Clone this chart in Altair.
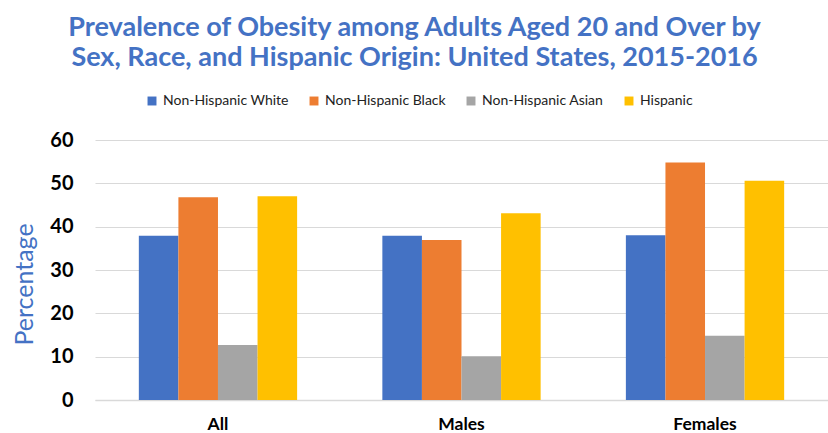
import altair as alt
import pandas as pd

groups = ["All", "Males", "Females"]
series = ["Non-Hispanic White", "Non-Hispanic Black", "Non-Hispanic Asian", "Hispanic"]
colors = ["#4472C4", "#ED7D31", "#A5A5A5", "#FFC000"]
white = [37.9, 37.9, 38.0]
black = [46.8, 36.9, 54.8]
asian = [12.7, 10.1, 14.8]
hispanic = [47.0, 43.1, 50.6]

rows = []
for s, vals in zip(series, [white, black, asian, hispanic]):
    for g, v in zip(groups, vals):
        rows.append({"group": g, "series": s, "value": v})
df = pd.DataFrame(rows)

FONT = "Lato"
chart = alt.Chart(df).mark_bar().encode(
    x=alt.X("group:N", sort=groups,
            scale=alt.Scale(paddingInner=0.35, paddingOuter=0.18),
            axis=alt.Axis(title=None, labelAngle=0, labelFont=FONT, labelFontSize=17.5,
                          labelFontWeight="bold", labelColor="black", labelPadding=15,
                          ticks=False, domainColor="#d9d9d9", domainWidth=1.5)),
    xOffset=alt.XOffset("series:N", sort=series, scale=alt.Scale(paddingInner=0, paddingOuter=0)),
    y=alt.Y("value:Q", scale=alt.Scale(domain=[0, 60]),
            axis=alt.Axis(title="Percentage", values=[0, 10, 20, 30, 40, 50, 60],
                          labelFont=FONT, labelFontSize=20, labelFontWeight="bold",
                          labelColor="black", labelPadding=22, ticks=False, domain=False,
                          gridColor="#d9d9d9", gridWidth=1.2,
                          titleFont=FONT, titleFontSize=25, titleFontWeight="normal",
                          titleColor="#4472C4", titlePadding=12, titleY=144)),
    color=alt.Color("series:N", sort=series,
                    scale=alt.Scale(domain=series, range=colors),
                    legend=alt.Legend(title=None, orient="none", legendX=50, legendY=-46,
                                      direction="horizontal", columns=4, columnPadding=18,
                                      symbolType="square", symbolSize=80, symbolStrokeWidth=0,
                                      labelFont=FONT, labelFontSize=14, labelColor="#222",
                                      labelOffset=4)),
).properties(
    width=733, height=260,
    title=alt.TitleParams(
        ["Prevalence of Obesity among Adults Aged 20 and Over by",
         "Sex, Race, and Hispanic Origin: United States, 2015-2016"],
        font=FONT, fontSize=27, fontWeight="bold", color="#4472C4",
        anchor="middle", frame="group", lineHeight=30, dx=-47, offset=22),
    autosize=alt.AutoSizeParams(type="none"),
    padding={"left": 95, "top": 140, "right": 0, "bottom": 33},
).configure_view(stroke=None)

chart.save("out.html", embed_options={"renderer": "svg", "actions": False})
